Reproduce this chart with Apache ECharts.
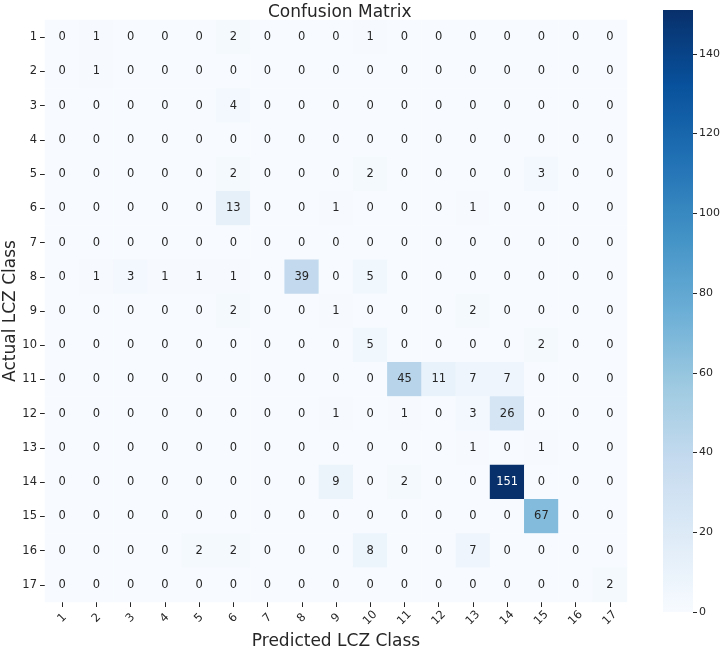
<!DOCTYPE html>
<html>
<head>
<meta charset="utf-8">
<script src="https://cdn.jsdelivr.net/npm/echarts@6/dist/echarts.min.js"></script>
<style>
html,body{margin:0;padding:0;background:#fff;}
#chart{width:722px;height:647px;}
</style>
</head>
<body>
<div id="chart"></div>
<script>
// ---- data ----
var predictedClasses = ['1','2','3','4','5','6','7','8','9','10','11','12','13','14','15','16','17'];
var actualClasses = ['1','2','3','4','5','6','7','8','9','10','11','12','13','14','15','16','17'];
var matrix = [
  [0,1,0,0,0,2,0,0,0,1,0,0,0,0,0,0,0],
  [0,1,0,0,0,0,0,0,0,0,0,0,0,0,0,0,0],
  [0,0,0,0,0,4,0,0,0,0,0,0,0,0,0,0,0],
  [0,0,0,0,0,0,0,0,0,0,0,0,0,0,0,0,0],
  [0,0,0,0,0,2,0,0,0,2,0,0,0,0,3,0,0],
  [0,0,0,0,0,13,0,0,1,0,0,0,1,0,0,0,0],
  [0,0,0,0,0,0,0,0,0,0,0,0,0,0,0,0,0],
  [0,1,3,1,1,1,0,39,0,5,0,0,0,0,0,0,0],
  [0,0,0,0,0,2,0,0,1,0,0,0,2,0,0,0,0],
  [0,0,0,0,0,0,0,0,0,5,0,0,0,0,2,0,0],
  [0,0,0,0,0,0,0,0,0,0,45,11,7,7,0,0,0],
  [0,0,0,0,0,0,0,0,1,0,1,0,3,26,0,0,0],
  [0,0,0,0,0,0,0,0,0,0,0,0,1,0,1,0,0],
  [0,0,0,0,0,0,0,0,9,0,2,0,0,151,0,0,0],
  [0,0,0,0,0,0,0,0,0,0,0,0,0,0,67,0,0],
  [0,0,0,0,2,2,0,0,0,8,0,0,7,0,0,0,0],
  [0,0,0,0,0,0,0,0,0,0,0,0,0,0,0,0,2]
];
var colorbarMax = 151;
var colorbarTicks = [0,20,40,60,80,100,120,140];

// ---- styling ----
var blues = ['#f7fbff','#deebf7','#c6dbef','#9ecae1','#6baed6','#4292c6','#2171b5','#08519c','#08306b'];
var FONT = 'DejaVu Sans';
var TXT = '#262626';
var SMALL = 11.5;

function hexToRgb(h){return [parseInt(h.substr(1,2),16),parseInt(h.substr(3,2),16),parseInt(h.substr(5,2),16)];}
function colorAt(t){
  t = Math.max(0, Math.min(1, t));
  var p = t*(blues.length-1), i = Math.min(Math.floor(p), blues.length-2), f = p-i;
  var a = hexToRgb(blues[i]), b = hexToRgb(blues[i+1]);
  return [a[0]+(b[0]-a[0])*f, a[1]+(b[1]-a[1])*f, a[2]+(b[2]-a[2])*f];
}
function lum(c){
  var r = c.map(function(v){v/=255;return v<=0.03928? v/12.92 : Math.pow((v+0.055)/1.055,2.4);});
  return 0.2126*r[0]+0.7152*r[1]+0.0722*r[2];
}

var heatData = [];
for (var r = 0; r < actualClasses.length; r++) {
  for (var c = 0; c < predictedClasses.length; c++) {
    var v = matrix[r][c];
    var dark = lum(colorAt(v/colorbarMax)) < 0.408;
    heatData.push({value:[c, r, v], label:{color: dark ? '#ffffff' : TXT}});
  }
}

var gradStops = blues.slice().reverse().map(function(col, i){
  return {offset: i/(blues.length-1), color: col};
});

var chart = echarts.init(document.getElementById('chart'), null, {renderer:'canvas'});
chart.setOption({
  backgroundColor:'#ffffff',
  animation:false,
  textStyle:{fontFamily:FONT},
  title:{
    text:'Confusion Matrix',
    left:263, top:-1,
    textStyle:{fontFamily:FONT, fontSize:17, fontWeight:'normal', color:TXT}
  },
  grid:[
    {left:45, top:20, width:582, height:582, containLabel:false, outerBoundsMode:'none'},
    {left:663, top:10, width:30, height:602, containLabel:false, outerBoundsMode:'none'}
  ],
  xAxis:[
    {
      type:'category', gridIndex:0, data:predictedClasses, position:'bottom',
      axisLine:{show:false},
      axisTick:{show:true, alignWithLabel:true, length:5, lineStyle:{color:TXT}},
      axisLabel:{rotate:45, margin:16, align:'center', verticalAlign:'middle', fontSize:SMALL, color:TXT, fontFamily:FONT},
      splitLine:{show:false},
      name:'Predicted LCZ Class', nameLocation:'middle', nameGap:31, nameMoveOverlap:false,
      nameTextStyle:{fontSize:17, color:TXT, fontFamily:FONT}
    },
    {
      type:'category', gridIndex:1, data:[''],
      axisLine:{show:false}, axisTick:{show:false}, axisLabel:{show:false}
    }
  ],
  yAxis:[
    {
      type:'category', gridIndex:0, data:actualClasses, inverse:true,
      axisLine:{show:false},
      axisTick:{show:true, alignWithLabel:true, length:5, lineStyle:{color:TXT}},
      axisLabel:{margin:8, fontSize:SMALL, color:TXT, fontFamily:FONT},
      splitLine:{show:false},
      name:'Actual LCZ Class', nameLocation:'middle', nameGap:26, nameRotate:90, nameMoveOverlap:false,
      nameTextStyle:{fontSize:17, color:TXT, fontFamily:FONT}
    },
    {
      type:'value', gridIndex:1, position:'right', min:0, max:colorbarMax,
      axisLine:{show:false},
      splitLine:{show:false},
      axisTick:{show:true, length:4, customValues:colorbarTicks, lineStyle:{color:TXT}},
      axisLabel:{show:true, margin:6, fontSize:11, color:TXT, fontFamily:FONT, customValues:colorbarTicks}
    }
  ],
  visualMap:{
    show:false, type:'continuous', seriesIndex:0, min:0, max:colorbarMax,
    dimension:2, inRange:{color:blues}
  },
  series:[
    {
      type:'heatmap', xAxisIndex:0, yAxisIndex:0, data:heatData,
      label:{show:true, fontSize:SMALL, fontFamily:FONT, color:TXT},
      itemStyle:{borderWidth:0},
      emphasis:{disabled:true}
    },
    {
      type:'bar', xAxisIndex:1, yAxisIndex:1, data:[colorbarMax], barWidth:'100%',
      itemStyle:{color:{type:'linear', x:0, y:0, x2:0, y2:1, colorStops:gradStops}},
      silent:true
    }
  ]
});
</script>
</body>
</html>
